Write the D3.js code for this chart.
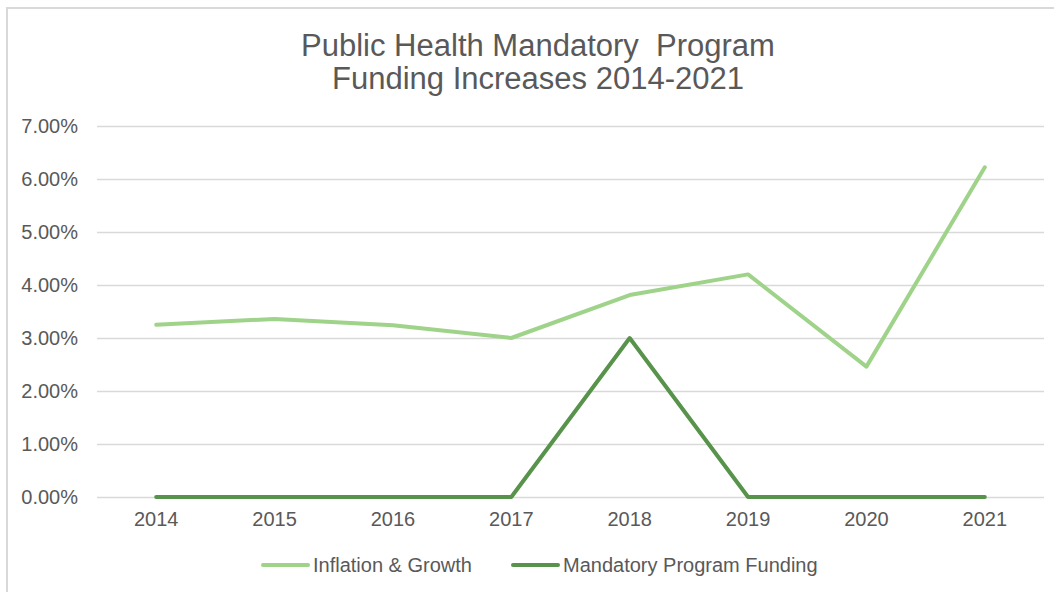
<!DOCTYPE html>
<html>
<head>
<meta charset="utf-8">
<script src="https://cdn.jsdelivr.net/npm/d3@7"></script>
<style>
  body { margin: 0; background: #fff; }
  svg { display: block; font-family: "Liberation Sans", Arial, sans-serif; }
</style>
</head>
<body>
<svg id="chart" width="1054" height="592"></svg>
<script>
var years = ["2014", "2015", "2016", "2017", "2018", "2019", "2020", "2021"];
var inflation = [3.25, 3.36, 3.24, 3.00, 3.81, 4.20, 2.46, 6.22];
var mandatory = [0, 0, 0, 0, 3.00, 0, 0, 0];
var yTicks = [0, 1, 2, 3, 4, 5, 6, 7];
var seriesNames = ["Inflation & Growth", "Mandatory Program Funding"];
var seriesColors = ["#9fd38a", "#57934a"];

var svg = d3.select("#chart");
var textColor = "#595959";

// chart frame
svg.append("rect")
    .attr("x", 7).attr("y", 8)
    .attr("width", 1060).attr("height", 600)
    .attr("fill", "none")
    .attr("stroke", "#d9d9d9")
    .attr("stroke-width", 2);

// title
var title = svg.append("text")
    .attr("text-anchor", "middle")
    .attr("fill", textColor)
    .attr("font-size", 31)
    .style("white-space", "pre");
title.append("tspan").attr("x", 538).attr("y", 56).text("Public Health Mandatory  Program");
title.append("tspan").attr("x", 538).attr("y", 89).text("Funding Increases 2014-2021");

var x = d3.scaleBand().domain(years).range([97, 1044]);
var y = d3.scaleLinear().domain([0, 7]).range([497, 126]);

// gridlines + y labels
var yAxis = d3.axisLeft(y)
    .tickValues(yTicks)
    .tickSize(-(1044 - 97))
    .tickPadding(19)
    .tickFormat(function (d) { return d.toFixed(2) + "%"; });
var gy = svg.append("g")
    .attr("transform", "translate(97,0)")
    .call(yAxis);
gy.select(".domain").remove();
gy.selectAll(".tick line").attr("stroke", "#d9d9d9").attr("stroke-width", 1.5);
gy.selectAll(".tick text").attr("fill", textColor).attr("font-size", 20).attr("font-family", "Liberation Sans, Arial, sans-serif");

// x labels
var xAxis = d3.axisBottom(x).tickSize(0).tickPadding(15);
var gx = svg.append("g")
    .attr("transform", "translate(0,497)")
    .call(xAxis);
gx.select(".domain").remove();
gx.selectAll(".tick text").attr("fill", textColor).attr("font-size", 20).attr("font-family", "Liberation Sans, Arial, sans-serif");

var line = d3.line()
    .x(function (d, i) { return x(years[i]) + x.bandwidth() / 2; })
    .y(function (d) { return y(d); });

[inflation, mandatory].forEach(function (data, k) {
    svg.append("path")
        .datum(data)
        .attr("d", line)
        .attr("fill", "none")
        .attr("stroke", seriesColors[k])
        .attr("stroke-width", 4)
        .attr("stroke-linecap", "round")
        .attr("stroke-linejoin", "round");
});

// legend
var legendX = [263, 513];
seriesNames.forEach(function (name, k) {
    var g = svg.append("g").attr("transform", "translate(" + legendX[k] + ",565)");
    g.append("line")
        .attr("x1", 0).attr("x2", 45)
        .attr("stroke", seriesColors[k])
        .attr("stroke-width", 4)
        .attr("stroke-linecap", "round");
    g.append("text")
        .attr("x", 50).attr("y", 7)
        .attr("fill", textColor)
        .attr("font-size", 20)
        .text(name);
});
</script>
</body>
</html>
